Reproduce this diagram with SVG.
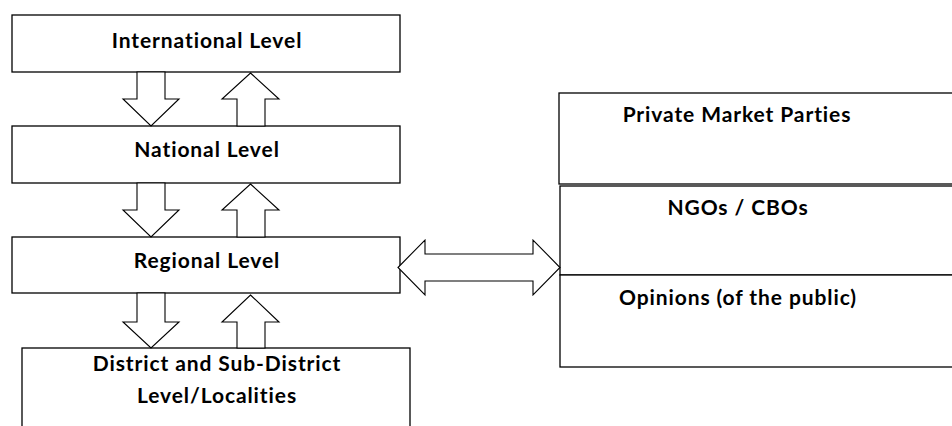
<svg xmlns="http://www.w3.org/2000/svg" width="952" height="426" viewBox="0 0 952 426">
<style>
.box{fill:#fff;stroke:#000;stroke-width:1.3}
.arr{fill:#fff;stroke:#000;stroke-width:1.1;stroke-linejoin:miter}
.t{font-family:Lato,"Liberation Sans",sans-serif;font-weight:bold;font-size:21px;letter-spacing:0.9px;fill:#000;text-anchor:middle}
</style>
<rect width="952" height="426" fill="#fff"/>
<g id="international"><rect class="box" x="12" y="15" width="388" height="57"/><text class="t" x="207" y="48">International Level</text></g>
<g id="national"><rect class="box" x="12" y="126" width="388" height="57"/><text class="t" x="207" y="157">National Level</text></g>
<g id="regional"><rect class="box" x="12" y="237" width="388" height="56"/><text class="t" x="207" y="268">Regional Level</text></g>
<g id="district"><rect class="box" x="22" y="348" width="388" height="90"/><text class="t" x="217" y="371">District and Sub-District</text><text class="t" x="217" y="403">Level/Localities</text></g>
<g id="private"><rect class="box" x="559" y="93" width="410" height="91"/><text class="t" x="737" y="122">Private Market Parties</text></g>
<g id="ngos"><rect class="box" x="560" y="186" width="410" height="89"/><text class="t" x="738" y="215">NGOs / CBOs</text></g>
<g id="opinions"><rect class="box" x="560" y="275" width="410" height="92"/><text class="t" x="738" y="305">Opinions (of the public)</text></g>
<g id="connectors">
<polygon class="arr" points="137,72 165,72 165,99 179,99 151,126 123,99 137,99"/>
<polygon class="arr" points="250.5,73 279,99 265,99 265,126 237,126 237,99 222,99"/>
<polygon class="arr" points="137,183 165,183 165,210 179,210 151,237 123,210 137,210"/>
<polygon class="arr" points="250.5,184 279,210 265,210 265,237 237,237 237,210 222,210"/>
<polygon class="arr" points="137,293 165,293 165,322 179,322 151,348 123,322 137,322"/>
<polygon class="arr" points="250.5,295 279,322 265,322 265,348 237,348 237,322 222,322"/>
<polygon class="arr" points="398,267.5 425,240 425,254 533,254 533,240 560,267.5 533,295 533,281 425,281 425,295"/>
</g>
</svg>
